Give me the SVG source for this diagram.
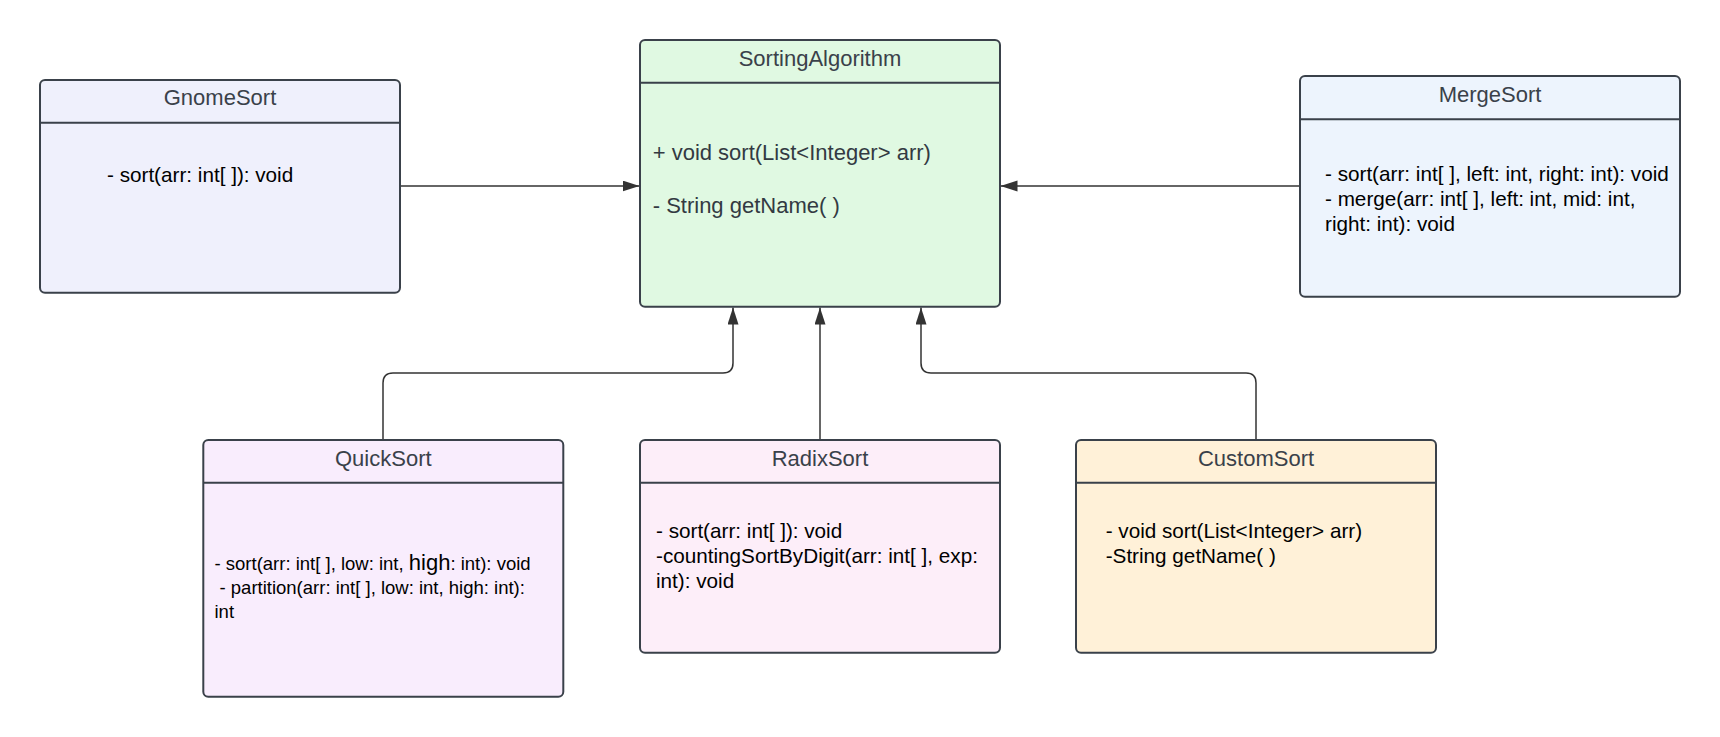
<svg xmlns="http://www.w3.org/2000/svg" width="1720" height="737" viewBox="0 0 1720 737">
  <defs>
    <marker id="arrow" markerUnits="userSpaceOnUse" markerWidth="18" markerHeight="12" refX="17" refY="5.5" orient="auto">
      <path d="M0,0 L17,5.5 L0,11 z" fill="#333333"/>
    </marker>
    <style>
      .box { stroke: #3a414a; stroke-width: 2; }
      .hdr { stroke: #3a414a; stroke-width: 2; }
      .title { font-family: "Liberation Sans", Arial, sans-serif; font-size: 22px; fill: #3a414a; text-anchor: middle; }
      .m { font-family: "Liberation Sans", Arial, sans-serif; font-size: 20.7px; fill: #000000; }
      .ma { font-family: "Liberation Sans", Arial, sans-serif; font-size: 22px; fill: #333a42; }
      .mq { font-family: "Liberation Sans", Arial, sans-serif; font-size: 18.5px; fill: #000000; }
      .conn { fill: none; stroke: #333333; stroke-width: 1.5; marker-end: url(#arrow); }
    </style>
  </defs>
  <rect width="1720" height="737" fill="#ffffff"/>

  <g id="connectors">
    <path class="conn" d="M400,186 H639.5"/>
    <path class="conn" d="M1300,186 H1000.5"/>
    <path class="conn" d="M383,440 V383 Q383,373 393,373 H723 Q733,373 733,363 V307.5"/>
    <path class="conn" d="M820,440 V307.5"/>
    <path class="conn" d="M1256,440 V383 Q1256,373 1246,373 H931 Q921,373 921,363 V307.5"/>
  </g>

  <g id="GnomeSort">
    <rect class="box" x="40" y="80" width="360" height="212.7" rx="5" fill="#eff0fc"/>
    <line class="hdr" x1="40" y1="122.7" x2="400" y2="122.7"/>
    <text class="title" x="220" y="105">GnomeSort</text>
    <text class="m" x="107" y="182">- sort(arr: int[ ]): void</text>
  </g>

  <g id="SortingAlgorithm">
    <rect class="box" x="640" y="40" width="360" height="266.7" rx="5" fill="#e0f9e2"/>
    <line class="hdr" x1="640" y1="82.7" x2="1000" y2="82.7"/>
    <text class="title" x="820" y="66">SortingAlgorithm</text>
    <text class="ma" x="652.7" y="159.5">+ void sort(List&lt;Integer&gt; arr)</text>
    <text class="ma" x="652.7" y="212.7">- String getName( )</text>
  </g>

  <g id="MergeSort">
    <rect class="box" x="1300" y="76" width="380" height="220.7" rx="5" fill="#edf4fd"/>
    <line class="hdr" x1="1300" y1="119.3" x2="1680" y2="119.3"/>
    <text class="title" x="1490" y="102.3">MergeSort</text>
    <text class="m" x="1325" y="181">- sort(arr: int[ ], left: int, right: int): void</text>
    <text class="m" x="1325" y="206">- merge(arr: int[ ], left: int, mid: int,</text>
    <text class="m" x="1325" y="231">right: int): void</text>
  </g>

  <g id="QuickSort">
    <rect class="box" x="203.3" y="440" width="360" height="256.7" rx="5" fill="#f9edfd"/>
    <line class="hdr" x1="203.3" y1="482.7" x2="563.3" y2="482.7"/>
    <text class="title" x="383.3" y="466">QuickSort</text>
    <text class="mq" x="214.5" y="570">- sort(arr: int[ ], low: int, <tspan font-size="22px">high</tspan>: int): void</text>
    <text class="mq" x="219.5" y="594">- partition(arr: int[ ], low: int, high: int):</text>
    <text class="mq" x="214.5" y="618">int</text>
  </g>

  <g id="RadixSort">
    <rect class="box" x="640" y="440" width="360" height="212.7" rx="5" fill="#fdeef9"/>
    <line class="hdr" x1="640" y1="482.7" x2="1000" y2="482.7"/>
    <text class="title" x="820" y="466">RadixSort</text>
    <text class="m" x="656" y="537.5">- sort(arr: int[ ]): void</text>
    <text class="m" x="656" y="563">-countingSortByDigit(arr: int[ ], exp:</text>
    <text class="m" x="656" y="587.5">int): void</text>
  </g>

  <g id="CustomSort">
    <rect class="box" x="1076" y="440" width="360" height="212.7" rx="5" fill="#fff1d8"/>
    <line class="hdr" x1="1076" y1="482.7" x2="1436" y2="482.7"/>
    <text class="title" x="1256" y="466">CustomSort</text>
    <text class="m" x="1105.7" y="538.3">- void sort(List&lt;Integer&gt; arr)</text>
    <text class="m" x="1105.7" y="563.3">-String getName( )</text>
  </g>
</svg>
